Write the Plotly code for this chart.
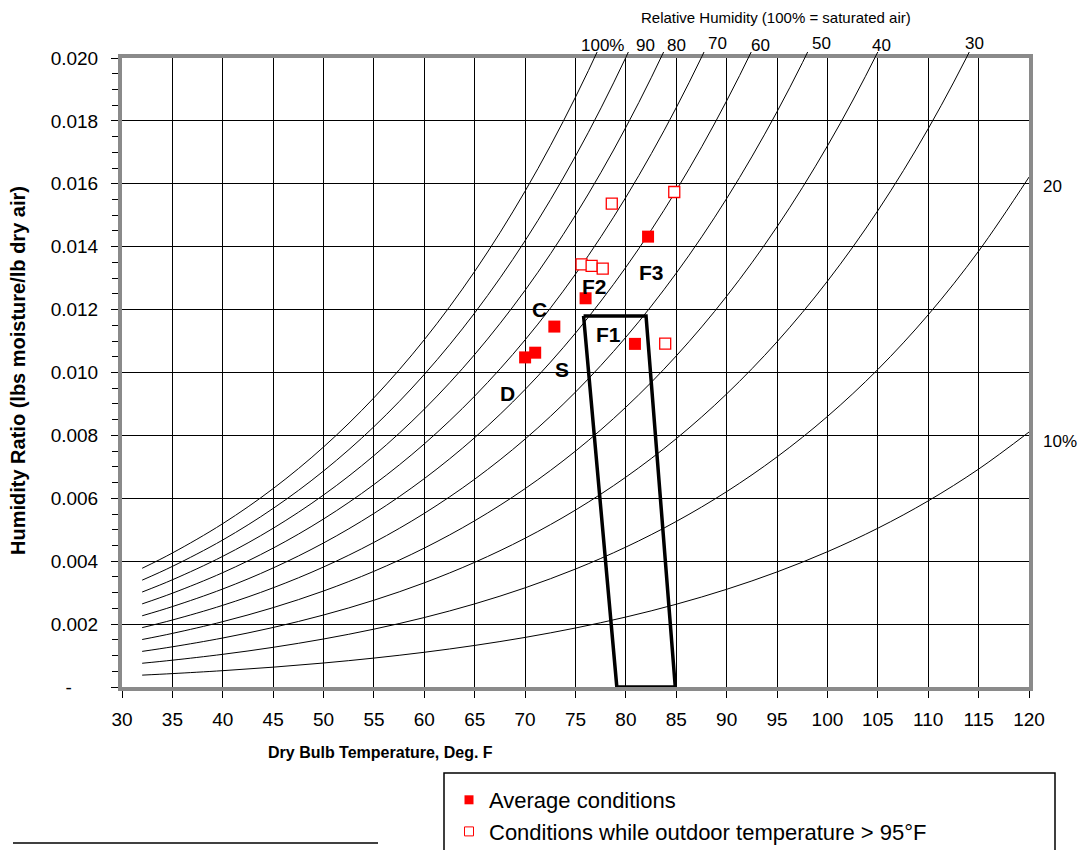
import plotly.graph_objects as go

# ---------------- data ----------------
# dry-bulb temperature (deg F) and saturation humidity ratio (lb/lb) at sea level
temps_f = [32, 35, 40, 45, 50, 55, 60, 65, 70, 75, 80, 85, 90, 95, 100, 105, 110, 115, 120]
sat_humidity_ratio = [0.003775, 0.004261, 0.005195, 0.006309, 0.007632, 0.009197, 0.011044,
                      0.013217, 0.015768, 0.018756, 0.022246, 0.026319, 0.031064, 0.036587,
                      0.043012, 0.050482, 0.059176, 0.069289, 0.081066]
rh_levels = [1.0, 0.9, 0.8, 0.7, 0.6, 0.5, 0.4, 0.3, 0.2, 0.1]

# curve labels along the top edge (temperature where label sits) and the right edge (humidity ratio)
top_rh_labels = ["100%", "90", "80", "70", "60", "50", "40", "30"]
top_rh_label_temp = [77.7, 81.9, 85.0, 89.1, 93.4, 99.4, 105.4, 114.6]
top_rh_label_raised = [False, False, False, True, False, True, False, True]
right_rh_labels = ["20", "10%"]
right_rh_label_w = [0.01593, 0.00781]

# average conditions (filled squares)
avg_temp = [82.2, 76.0, 72.9, 71.0, 70.0, 80.9]
avg_w = [0.01432, 0.01236, 0.01146, 0.01063, 0.01048, 0.01091]
# conditions while outdoor temperature > 95F (open squares)
hot_temp = [84.8, 78.6, 75.6, 76.6, 77.7, 83.9]
hot_w = [0.01574, 0.01537, 0.01344, 0.01339, 0.01330, 0.01092]

# zone labels
zone_labels = ["F3", "F2", "C", "F1", "S", "D"]
zone_temp = [82.5, 76.9, 71.4, 78.3, 73.7, 68.3]
zone_w = [0.01317, 0.01273, 0.01201, 0.01121, 0.01008, 0.00932]

# comfort-zone outline
box_temp = [75.8, 82.0, 84.9, 79.1, 75.8]
box_w = [0.0118, 0.0118, 0.0, 0.0, 0.0118]

x_tickvals = [30, 35, 40, 45, 50, 55, 60, 65, 70, 75, 80, 85, 90, 95, 100, 105, 110, 115, 120]
y_tickvals = [0, 0.002, 0.004, 0.006, 0.008, 0.010, 0.012, 0.014, 0.016, 0.018, 0.020]
y_ticktext = ["-\u00a0\u00a0\u00a0\u00a0\u00a0", "0.002", "0.004", "0.006", "0.008", "0.010",
              "0.012", "0.014", "0.016", "0.018", "0.020"]

# ---------------- layout geometry ----------------
W, H = 1080, 850
ML, MR, MT, MB = 122, 51, 52, 163
PW, PH = W - ML - MR, H - MT - MB
Y_MAX = 0.020
main_top = 629 / PH            # main axes top (y = 0.020)
y2_max = Y_MAX / main_top      # extended axis for curve tips above the frame

FONT = "Liberation Sans, Arial, sans-serif"


def px_x(p):
    return (p - ML) / PW


def px_y(p):
    return (H - MB - p) / PH


fig = go.Figure()

# RH curves
for rh in rh_levels:
    fig.add_trace(go.Scatter(
        x=temps_f, y=[rh * w for w in sat_humidity_ratio],
        mode="lines", line=dict(color="black", width=1, shape="spline"),
        xaxis="x2", yaxis="y2", showlegend=False, hoverinfo="skip"))

# zone outline
fig.add_trace(go.Scatter(
    x=box_temp, y=box_w, mode="lines", line=dict(color="black", width=3.5),
    xaxis="x2", yaxis="y2", showlegend=False, hoverinfo="skip"))

# data points
fig.add_trace(go.Scatter(
    x=avg_temp, y=avg_w, mode="markers",
    marker=dict(symbol="square", size=12, color="#ff0000", line=dict(width=0)),
    xaxis="x2", yaxis="y2", showlegend=False))
fig.add_trace(go.Scatter(
    x=hot_temp, y=hot_w, mode="markers",
    marker=dict(symbol="square", size=11, color="white", line=dict(width=1.3, color="#ff0000")),
    xaxis="x2", yaxis="y2", showlegend=False))

# legend entries
fig.add_trace(go.Scatter(
    x=[None], y=[None], mode="markers", name="Average conditions",
    marker=dict(symbol="square", size=9, color="#ff0000", line=dict(width=0)),
    xaxis="x2", yaxis="y2"))
fig.add_trace(go.Scatter(
    x=[None], y=[None], mode="markers", name="Conditions while outdoor temperature > 95\u00b0F",
    marker=dict(symbol="square", size=9, color="white", line=dict(width=1, color="#ff0000")),
    xaxis="x2", yaxis="y2"))

annotations = []
# zone labels
for t, x, y in zip(zone_labels, zone_temp, zone_w):
    annotations.append(dict(x=x, y=y, xref="x", yref="y", text=t, showarrow=False,
                            font=dict(family=FONT, size=21, color="black", weight="bold")))
# RH labels on top
for t, x, raised in zip(top_rh_labels, top_rh_label_temp, top_rh_label_raised):
    annotations.append(dict(x=x, y=px_y(43.5 if raised else 45.5), xref="x", yref="paper",
                            text=t, showarrow=False, xanchor="center", yanchor="middle",
                            font=dict(family=FONT, size=17, color="black")))
# RH labels on right
for t, y in zip(right_rh_labels, right_rh_label_w):
    annotations.append(dict(x=px_x(1041), y=y, xref="paper", yref="y", text=t,
                            showarrow=False, xanchor="left", yanchor="middle",
                            font=dict(family=FONT, size=17, color="black")))
# titles
annotations.append(dict(x=px_x(776), y=px_y(18), xref="paper", yref="paper",
                        text="Relative Humidity (100% = saturated air)", showarrow=False,
                        xanchor="center", yanchor="middle",
                        font=dict(family=FONT, size=15, color="black")))
annotations.append(dict(x=px_x(380), y=px_y(752), xref="paper", yref="paper",
                        text="Dry Bulb Temperature, Deg. F", showarrow=False,
                        xanchor="center", yanchor="middle",
                        font=dict(family=FONT, size=16, color="black", weight="bold")))
annotations.append(dict(x=px_x(18), y=px_y(371), xref="paper", yref="paper",
                        text="Humidity Ratio (lbs moisture/lb dry air)", showarrow=False,
                        textangle=-90, xanchor="center", yanchor="middle",
                        font=dict(family=FONT, size=20, color="black", weight="bold")))

shapes = [
    # legend frame
    dict(type="rect", xref="paper", yref="paper",
         x0=px_x(444), x1=px_x(1055), y0=px_y(773), y1=px_y(880),
         line=dict(color="black", width=1.5), fillcolor="rgba(0,0,0,0)"),
    # footnote separator
    dict(type="line", xref="paper", yref="paper",
         x0=px_x(13), x1=px_x(378), y0=px_y(843), y1=px_y(843),
         line=dict(color="black", width=1.5)),
]

fig.update_layout(
    width=W, height=H,
    margin=dict(l=ML, r=MR, t=MT, b=MB, pad=0, autoexpand=False),
    paper_bgcolor="white", plot_bgcolor="rgba(0,0,0,0)",
    font=dict(family=FONT, color="black"),
    showlegend=True,
    legend=dict(xref="container", yref="container",
                x=449 / W, y=1 - 779 / H, xanchor="left", yanchor="top",
                bgcolor="rgba(0,0,0,0)", borderwidth=0, tracegroupgap=0,
                font=dict(family=FONT, size=22, color="black")),
    xaxis=dict(domain=[0, 1], range=[30, 120], anchor="y",
               tickmode="array", tickvals=x_tickvals,
               showgrid=True, gridcolor="black", gridwidth=1, zeroline=False,
               showline=True, linecolor="#8a8a8a", linewidth=4, mirror=True,
               ticks="outside", ticklen=7, tickwidth=1, tickcolor="black",
               ticklabelstandoff=5,
               tickfont=dict(family=FONT, size=19, color="black")),
    yaxis=dict(domain=[0, main_top], range=[0, Y_MAX], anchor="x",
               tickmode="array", tickvals=y_tickvals, ticktext=y_ticktext,
               showgrid=True, gridcolor="black", gridwidth=1, zeroline=False,
               showline=True, linecolor="#8a8a8a", linewidth=4, mirror=True,
               ticks="outside", ticklen=7, tickwidth=1, tickcolor="black",
               ticklabelstandoff=9,
               minor=dict(dtick=0.0005, ticks="outside", ticklen=6, tickwidth=1,
                          tickcolor="black", showgrid=False),
               tickfont=dict(family=FONT, size=19, color="black")),
    xaxis2=dict(domain=[0, 1], range=[30, 120], anchor="y2", visible=False,
                showgrid=False, zeroline=False),
    yaxis2=dict(domain=[0, 1], range=[0, y2_max], anchor="x2", visible=False,
                showgrid=False, zeroline=False),
    annotations=annotations,
    shapes=shapes,
)

fig.write_html("out.html")
